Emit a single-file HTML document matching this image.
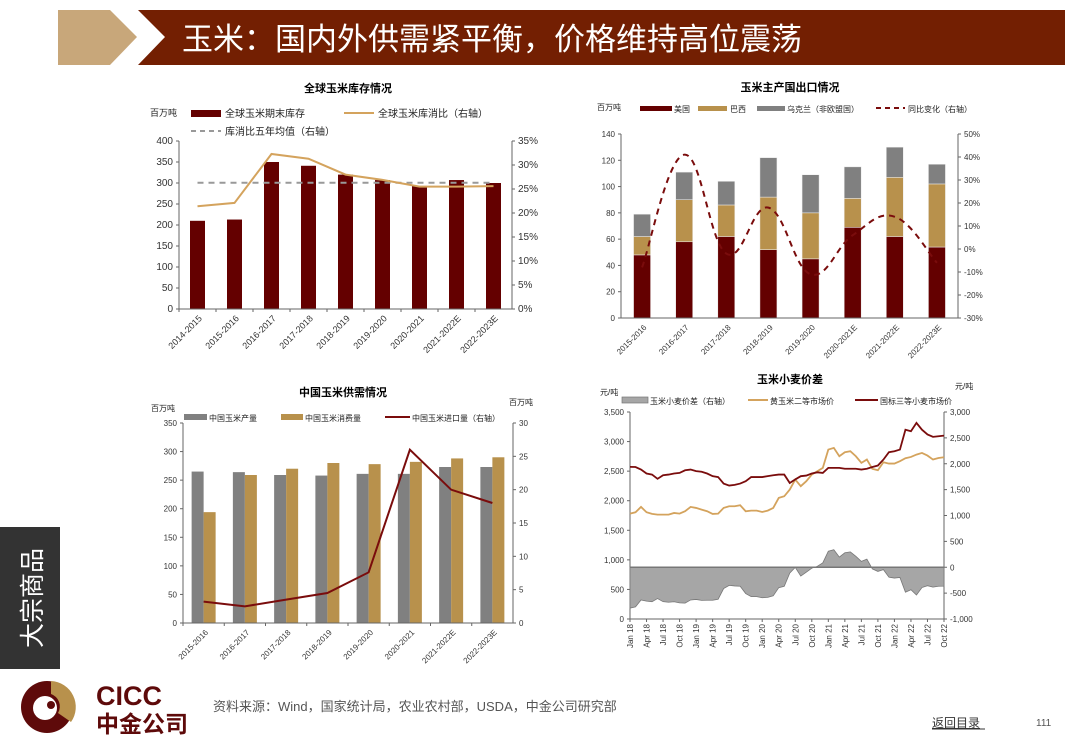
<!DOCTYPE html>
<html><head><meta charset="utf-8">
<style>
body{margin:0;width:1080px;height:755px;overflow:hidden;background:#fff;font-family:"Liberation Sans","Noto Sans CJK SC",sans-serif;}
svg{position:absolute;left:0;top:0}
text{font-family:"Liberation Sans","Noto Sans CJK SC",sans-serif;}
</style></head>
<body>
<svg id="s" width="1080" height="755" viewBox="0 0 1080 755" xmlns="http://www.w3.org/2000/svg">
 <g>
  <polygon points="58,10 110,10 137,37 110,65 58,65" fill="#c8a77a"/>
  <polygon points="138,10 1065,10 1065,65 138,65 165,37" fill="#731f02"/>
  <text x="182" y="50" fill="#fff" font-size="31" font-family="Liberation Sans, Noto Sans CJK SC, sans-serif">玉米：国内外供需紧平衡，价格维持高位震荡</text>
 </g>
 <g>
  <rect x="0" y="527" width="60" height="142" fill="#333"/>
  <text transform="translate(41,598) rotate(-90)" text-anchor="middle" fill="#fff" font-size="25">大宗商品</text>
 </g>
 <g>
  <circle cx="47" cy="707" r="26" fill="#5e0a0a"/>
  <path d="M52,681 A26,26 0 0 1 52,733 A26,26 0 0 0 52,681Z" fill="#b8914c"/>
  <path d="M51,681 A26,26 0 0 1 71,722 L58,713 A13,13 0 0 0 51,694Z" fill="#b8914c"/>
  <circle cx="45" cy="708" r="12" fill="#fff"/>
  <circle cx="51" cy="705" r="4" fill="#5e0a0a"/>
  <text x="96" y="705" font-size="27" font-weight="bold" fill="#5e0a0a">CICC</text>
  <text x="96" y="732" font-size="23" font-weight="bold" fill="#5e0a0a">中金公司</text>
 </g>
 <text x="213" y="711" font-size="13" fill="#555">资料来源：Wind，国家统计局，农业农村部，USDA，中金公司研究部</text>
 <text x="932" y="727" font-size="12" fill="#333" text-decoration="underline">返回目录</text>
 <line x1="932" y1="729" x2="985" y2="729" stroke="#333" stroke-width="1"/>
 <text x="1036" y="726" font-size="10" fill="#555">111</text>
 <g id="c1"></g>
 <g id="c2"></g>
 <g id="c3"></g>
 <g id="c4"></g>
</svg>
<script>
// Chart 1 data
const c1Cats = ["2014-2015","2015-2016","2016-2017","2017-2018","2018-2019","2019-2020","2020-2021","2021-2022E","2022-2023E"];
const c1Stock = [210,213,350,341,320,307,293,307,300];
const c1Ratio = [21.4,22.1,32.3,31.3,28.0,26.9,25.5,25.5,25.6];
const c1Avg = 26.3;
const c1LeftTicks = [0,50,100,150,200,250,300,350,400];
const c1RightTicks = [0,5,10,15,20,25,30,35];
// Chart 2 data
const c2Cats = ["2015-2016","2016-2017","2017-2018","2018-2019","2019-2020","2020-2021E","2021-2022E","2022-2023E"];
const c2US = [48,58,62,52,45,69,62,54];
const c2Brazil = [14,32,24,40,35,22,45,48];
const c2Ukraine = [17,21,18,30,29,24,23,15];
const c2Yoy = [-8,41,-2,18,-11,6,14,-6];
const c2LeftTicks = [0,20,40,60,80,100,120,140];
const c2RightTicks = [-30,-20,-10,0,10,20,30,40,50];
// Chart 3 data
const c3Cats = ["2015-2016","2016-2017","2017-2018","2018-2019","2019-2020","2020-2021","2021-2022E","2022-2023E"];
const c3Prod = [265,264,259,258,261,261,273,273];
const c3Cons = [194,259,270,280,278,282,288,290];
const c3Import = [3.2,2.5,3.5,4.5,7.6,26,20,18];
const c3LeftTicks = [0,50,100,150,200,250,300,350];
const c3RightTicks = [0,5,10,15,20,25,30];
// Chart 4 data (monthly, Jan 18 .. Oct 22)
const c4Corn = [1782,1805,1895,1805,1777,1765,1765,1765,1793,1782,1822,1895,1878,1850,1822,1777,1782,1878,1906,1906,1923,1822,1833,1833,1810,1833,1878,2047,2075,2188,2357,2245,2330,2442,2498,2555,2865,2893,2752,2820,2837,2752,2640,2696,2538,2515,2650,2628,2628,2668,2718,2740,2780,2808,2763,2696,2723,2735];
const c4Wheat = [2572,2570,2527,2460,2442,2370,2430,2442,2460,2470,2515,2527,2500,2490,2460,2415,2400,2290,2256,2267,2290,2330,2400,2400,2400,2415,2430,2442,2442,2300,2360,2415,2425,2460,2480,2470,2555,2555,2555,2540,2540,2540,2527,2540,2570,2595,2695,2820,2837,2865,3200,3175,3316,3200,3120,3080,3090,3100];
const c4XLabels = ["Jan 18","Apr 18","Jul 18","Oct 18","Jan 19","Apr 19","Jul 19","Oct 19","Jan 20","Apr 20","Jul 20","Oct 20","Jan 21","Apr 21","Jul 21","Oct 21","Jan 22","Apr 22","Jul 22","Oct 22"];
const c4LeftTicks = [0,500,1000,1500,2000,2500,3000,3500];
const c4RightTicks = [-1000,-500,0,500,1000,1500,2000,2500,3000];

const NS="http://www.w3.org/2000/svg";
function mk(parent,tag,attrs,txt){const e=document.createElementNS(NS,tag);for(const k in attrs)e.setAttribute(k,attrs[k]);if(txt!==undefined)e.textContent=txt;parent.appendChild(e);return e;}
function lin(d0,d1,r0,r1){return v=>r0+(v-d0)*(r1-r0)/(d1-d0);}
function fmt(n){return n.toLocaleString('en-US');}
function smooth(pts){let d="M"+pts[0][0]+","+pts[0][1];for(let i=0;i<pts.length-1;i++){const p0=pts[i-1]||pts[i],p1=pts[i],p2=pts[i+1],p3=pts[i+2]||p2;const t=0.2;d+=" C"+(p1[0]+(p2[0]-p0[0])*t)+","+(p1[1]+(p2[1]-p0[1])*t)+" "+(p2[0]-(p3[0]-p1[0])*t)+","+(p2[1]-(p3[1]-p1[1])*t)+" "+p2[0]+","+p2[1];}return d;}
function axes(g,L,R,T,B,lt,ly,rt,ry,fs,rfmt,lfmt){
  mk(g,'line',{x1:L,y1:T,x2:L,y2:B,stroke:'#666'});
  mk(g,'line',{x1:R,y1:T,x2:R,y2:B,stroke:'#666'});
  lt.forEach(v=>{const t=mk(g,'text',{x:L-6,y:ly(v)+3,'text-anchor':'end','font-size':fs,fill:'#333'},lfmt?lfmt(v):v);mk(g,'line',{x1:L-3,y1:ly(v),x2:L,y2:ly(v),stroke:'#666'});});
  rt.forEach(v=>{const t=mk(g,'text',{x:R+6,y:ry(v)+3,'font-size':fs,fill:'#333'},rfmt(v));mk(g,'line',{x1:R,y1:ry(v),x2:R+3,y2:ry(v),stroke:'#666'});});
}
function catLabels(g,cats,xc,B,fs){cats.forEach((c,i)=>{const t=mk(g,'text',{transform:`translate(${xc(i)+5},${B+10}) rotate(-45)`,'text-anchor':'end','font-size':fs,fill:'#333'},c);});}
function title(g,x,y,s){const t=mk(g,'text',{x:x,y:y,'text-anchor':'middle','font-size':11,'font-weight':'bold',fill:'#000'},s);}
function lg(g,x,y,s,fs){const t=mk(g,'text',{x:x,y:y+4,'font-size':fs,fill:'#222'},s);}

// ---- Chart 1
(function(){
 const g=document.getElementById('c1');const L=179,R=512,T=141,B=309;
 const ly=lin(0,400,B,T), ry=lin(0,35,B,T); const w=(R-L)/c1Cats.length; const xc=i=>L+w*(i+0.5);
 title(g,348,92,'全球玉米库存情况');
 mk(g,'text',{x:150,y:116,'font-size':9,fill:'#222'},'百万吨');
 mk(g,'rect',{x:191,y:110,width:30,height:7,fill:'#640000'}); lg(g,225,113,'全球玉米期末库存',10);
 mk(g,'line',{x1:344,y1:113,x2:374,y2:113,stroke:'#d4a35d','stroke-width':2}); lg(g,378,113,'全球玉米库消比（右轴）',10);
 mk(g,'line',{x1:191,y1:131,x2:221,y2:131,stroke:'#999','stroke-width':2,'stroke-dasharray':'5,4'}); lg(g,225,131,'库消比五年均值（右轴）',10);
 axes(g,L,R,T,B,c1LeftTicks,ly,c1RightTicks,ry,10,v=>v+'%');
 c1Stock.forEach((v,i)=>{const r=mk(g,'rect',{x:xc(i)-7.5,y:ly(v),width:15,height:B-ly(v),fill:'#640000'});});
 mk(g,'line',{x1:L,y1:B,x2:R,y2:B,stroke:'#666'});
 c1Cats.forEach((c,i)=>mk(g,'line',{x1:L+w*i,y1:B,x2:L+w*i,y2:B+3,stroke:'#666'}));
 const al=mk(g,'line',{x1:xc(0),y1:ry(c1Avg),x2:xc(8),y2:ry(c1Avg),stroke:'#999','stroke-width':2,'stroke-dasharray':'6,5'});
 
 const p=mk(g,'polyline',{points:c1Ratio.map((v,i)=>xc(i)+','+ry(v)).join(' '),fill:'none',stroke:'#d4a35d','stroke-width':2});
 
 catLabels(g,c1Cats,xc,B,9);
})();
// ---- Chart 2
(function(){
 const g=document.getElementById('c2');const L=621,R=958,T=134,B=318;
 const ly=lin(0,140,B,T), ry=lin(-30,50,B,T); const w=(R-L)/c2Cats.length; const xc=i=>L+w*(i+0.5);
 title(g,790,91,'玉米主产国出口情况');
 mk(g,'text',{x:597,y:110,'font-size':8,fill:'#222'},'百万吨');
 mk(g,'rect',{x:640,y:106,width:32,height:5,fill:'#640000'}); lg(g,674,108,'美国',8);
 mk(g,'rect',{x:698,y:106,width:29,height:5,fill:'#b8914c'}); lg(g,730,108,'巴西',8);
 mk(g,'rect',{x:757,y:106,width:28,height:5,fill:'#808080'}); lg(g,787,108,'乌克兰（非欧盟国）',8);
 mk(g,'line',{x1:876,y1:108,x2:905,y2:108,stroke:'#7a0c0c','stroke-width':2,'stroke-dasharray':'5,4'}); lg(g,908,108,'同比变化（右轴）',8);
 axes(g,L,R,T,B,c2LeftTicks,ly,c2RightTicks,ry,8,v=>v+'%');
 c2Cats.forEach((c,i)=>{const x=xc(i)-8.5;let b=0;[[c2US,'#640000'],[c2Brazil,'#b8914c'],[c2Ukraine,'#808080']].forEach(([arr,col],k)=>{const v=arr[i];const r=mk(g,'rect',{x:x,y:ly(b+v),width:17,height:ly(b)-ly(b+v),fill:col,stroke:'#eee','stroke-width':0.5});b+=v;});});
 mk(g,'line',{x1:L,y1:B,x2:R,y2:B,stroke:'#666'});
 const p=mk(g,'path',{d:smooth(c2Yoy.map((v,i)=>[xc(i),ry(v)])),fill:'none',stroke:'#7a0c0c','stroke-width':2,'stroke-dasharray':'6,5'});
 
 catLabels(g,c2Cats,xc,B,8);
})();
// ---- Chart 3
(function(){
 const g=document.getElementById('c3');const L=183,R=513,T=423,B=623;
 const ly=lin(0,350,B,T), ry=lin(0,30,B,T); const w=(R-L)/c3Cats.length; const xc=i=>L+w*(i+0.5);
 title(g,343,396,'中国玉米供需情况');
 mk(g,'text',{x:151,y:411,'font-size':8,fill:'#222'},'百万吨');
 mk(g,'text',{x:509,y:405,'font-size':8,fill:'#222'},'百万吨');
 mk(g,'rect',{x:184,y:414,width:23,height:6,fill:'#808080'}); lg(g,209,417,'中国玉米产量',8);
 mk(g,'rect',{x:281,y:414,width:22,height:6,fill:'#b8914c'}); lg(g,305,417,'中国玉米消费量',8);
 mk(g,'line',{x1:385,y1:417,x2:410,y2:417,stroke:'#7a0c0c','stroke-width':2}); lg(g,412,417,'中国玉米进口量（右轴）',8);
 axes(g,L,R,T,B,c3LeftTicks,ly,c3RightTicks,ry,8,v=>v);
 c3Cats.forEach((c,i)=>{const a=mk(g,'rect',{x:xc(i)-12,y:ly(c3Prod[i]),width:12,height:B-ly(c3Prod[i]),fill:'#808080'});
  const b=mk(g,'rect',{x:xc(i),y:ly(c3Cons[i]),width:12,height:B-ly(c3Cons[i]),fill:'#b8914c'});});
 mk(g,'line',{x1:L,y1:B,x2:R,y2:B,stroke:'#666'});
 c3Cats.forEach((c,i)=>mk(g,'line',{x1:L+w*i,y1:B,x2:L+w*i,y2:B+3,stroke:'#666'}));
 const p=mk(g,'polyline',{points:c3Import.map((v,i)=>xc(i)+','+ry(v)).join(' '),fill:'none',stroke:'#7a0c0c','stroke-width':2});
 
 catLabels(g,c3Cats,xc,B,8);
})();
// ---- Chart 4
(function(){
 const g=document.getElementById('c4');const L=630,R=944,T=412,B=619;
 const ly=lin(0,3500,B,T), ry=lin(-1000,3000,B,T); const n=c4Corn.length; const xm=i=>L+(R-L)*i/(n-1);
 title(g,790,383,'玉米小麦价差');
 mk(g,'text',{x:600,y:395,'font-size':8,fill:'#222'},'元/吨');
 mk(g,'text',{x:955,y:389,'font-size':8,fill:'#222'},'元/吨');
 mk(g,'rect',{x:622,y:397,width:26,height:6,fill:'#a6a6a6',stroke:'#777','stroke-width':0.7}); lg(g,650,400,'玉米小麦价差（右轴）',8);
 mk(g,'line',{x1:748,y1:400,x2:768,y2:400,stroke:'#d4a35d','stroke-width':2}); lg(g,770,400,'黄玉米二等市场价',8);
 mk(g,'line',{x1:855,y1:400,x2:878,y2:400,stroke:'#7a0c0c','stroke-width':2}); lg(g,880,400,'国标三等小麦市场价',8);
 axes(g,L,R,T,B,c4LeftTicks,ly,c4RightTicks,ry,8,v=>fmt(v),v=>fmt(v));
 const z=ry(0);
 const sp=c4Corn.map((v,i)=>v-c4Wheat[i]);
 const a=mk(g,'path',{d:'M'+xm(0)+','+z+' '+sp.map((v,i)=>'L'+xm(i)+','+ry(v)).join(' ')+' L'+xm(n-1)+','+z+'Z',fill:'#a6a6a6',stroke:'#777','stroke-width':0.8});
 
 mk(g,'line',{x1:L,y1:z,x2:R,y2:z,stroke:'#777','stroke-width':1.5});
 const c=mk(g,'polyline',{points:c4Corn.map((v,i)=>xm(i)+','+ly(v)).join(' '),fill:'none',stroke:'#d4a35d','stroke-width':1.8});
 
 const w=mk(g,'polyline',{points:c4Wheat.map((v,i)=>xm(i)+','+ly(v)).join(' '),fill:'none',stroke:'#7a0c0c','stroke-width':1.8});
 
 mk(g,'line',{x1:L,y1:B,x2:R,y2:B,stroke:'#666'});
 c4XLabels.forEach((s,i)=>{const x=L+(R-L)*i/(c4XLabels.length-1);mk(g,'line',{x1:x,y1:B,x2:x,y2:B+3,stroke:'#666'});const t=mk(g,'text',{transform:`translate(${x+3},${B+5}) rotate(-90)`,'text-anchor':'end','font-size':8,fill:'#333'},s);});
})();
</script>
</body></html>
